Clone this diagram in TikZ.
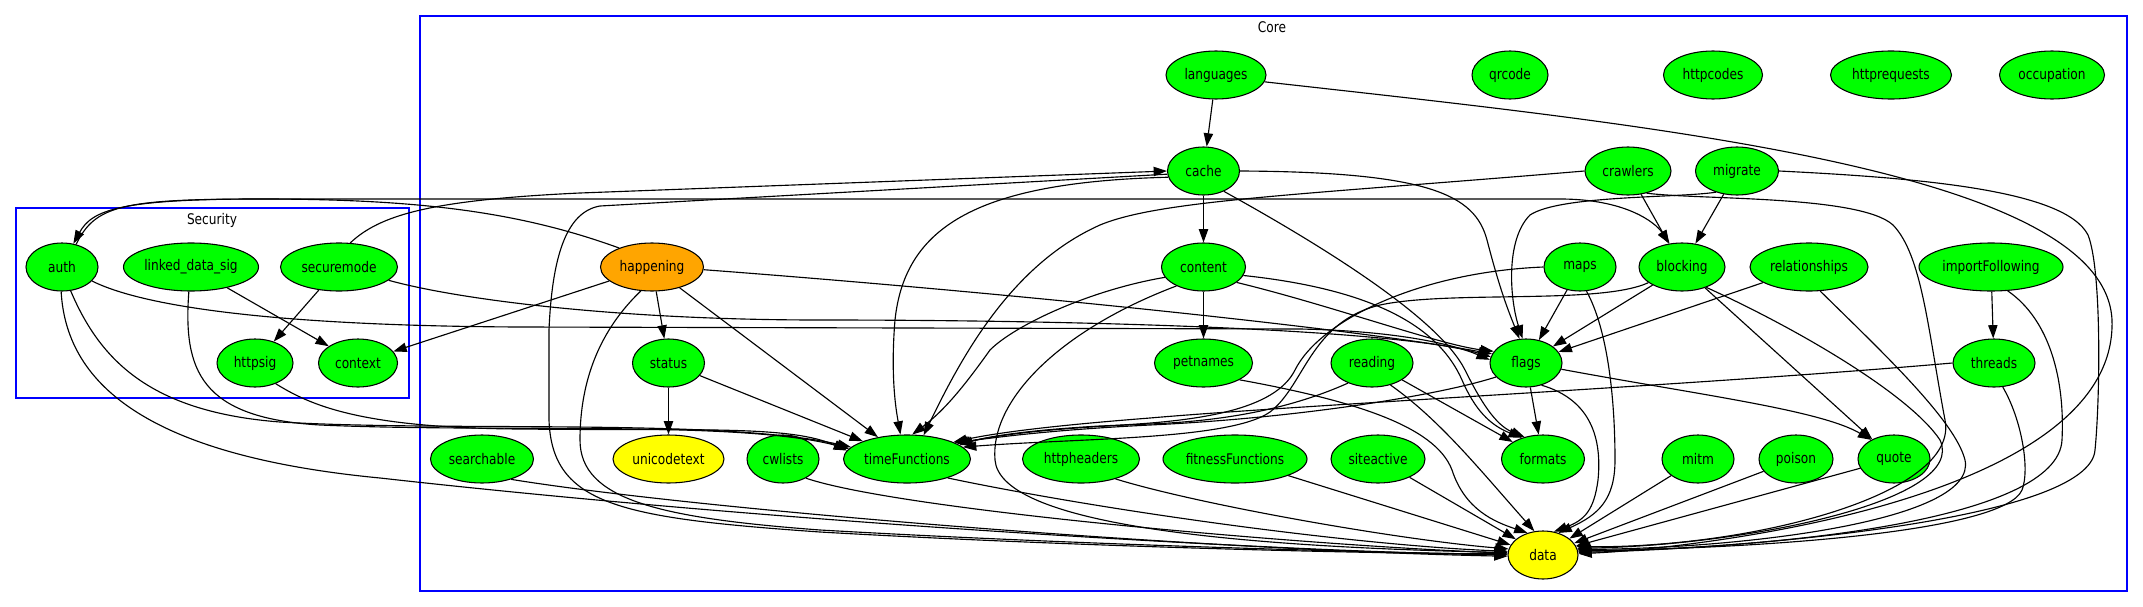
\documentclass[tikz,border=0pt]{standalone}
\usepackage{fontspec}
\setmainfont{DejaVu Sans}[FakeStretch=0.83]
\usetikzlibrary{shapes.geometric,arrows.meta}
\definecolor{gvgreen}{RGB}{0,255,0}
\definecolor{gvyellow}{RGB}{255,255,0}
\definecolor{gvorange}{RGB}{255,165,0}
\definecolor{gvblue}{RGB}{0,0,255}
\begin{document}
\begin{tikzpicture}[x=0.75pt,y=-0.75pt,
  nd/.style={ellipse,draw,line width=0.8pt,fill=gvgreen,minimum height=36pt,inner sep=0pt,font=\fontsize{11}{13}\selectfont},
  wd/.style={minimum width=#1*0.75pt},
  yel/.style={fill=gvyellow},
  org/.style={fill=gvorange},
  ed/.style={line width=0.85pt,-{Triangle[length=10pt,width=7pt]}},
  cl/.style={draw=gvblue,line width=0.8pt},
  lbl/.style={font=\fontsize{11}{13}\selectfont,inner sep=0pt}]
\useasboundingbox (0,0) rectangle (2143,607);
% clusters
\draw[cl] (16,208) rectangle (409,398);
\node[lbl] (seclbl) at (212,220) {Security};
\draw[cl] (420,16) rectangle (2127,591);
\node[lbl] (corelbl) at (1272,27) {Core};
% nodes
\node[nd,wd=72] (auth) at (62,267) {auth};
\node[nd,wd=135] (lds) at (191,267) {linked\_data\_sig};
\node[nd,wd=117] (securemode) at (339,267) {securemode};
\node[nd,wd=76] (httpsig) at (255,363) {httpsig};
\node[nd,wd=79] (context) at (358,363) {context};
\node[nd,wd=100] (languages) at (1216,75) {languages};
\node[nd,wd=76] (qrcode) at (1510,75) {qrcode};
\node[nd,wd=99] (httpcodes) at (1713,75) {httpcodes};
\node[nd,wd=121] (httprequests) at (1891,75) {httprequests};
\node[nd,wd=105] (occupation) at (2052,75) {occupation};
\node[nd,wd=72] (cache) at (1203.5,171) {cache};
\node[nd,wd=86] (crawlers) at (1628,171) {crawlers};
\node[nd,wd=83] (migrate) at (1737,171) {migrate};
\node[nd,org,wd=103] (happening) at (652,267) {happening};
\node[nd,wd=84] (content) at (1203.5,267) {content};
\node[nd,wd=72] (maps) at (1580,267) {maps};
\node[nd,wd=86] (blocking) at (1682,267) {blocking};
\node[nd,wd=118] (relationships) at (1809,267) {relationships};
\node[nd,wd=144] (importFollowing) at (1991,267) {importFollowing};
\node[nd,wd=72] (status) at (668.5,363) {status};
\node[nd,wd=98] (petnames) at (1203.5,363) {petnames};
\node[nd,wd=82] (reading) at (1372,363) {reading};
\node[nd,wd=72] (flags) at (1526,363) {flags};
\node[nd,wd=82] (threads) at (1994,363) {threads};
\node[nd,wd=103] (searchable) at (482,459) {searchable};
\node[nd,yel,wd=111] (unicodetext) at (668.5,459) {unicodetext};
\node[nd,wd=72] (cwlists) at (783,459) {cwlists};
\node[nd,wd=127] (timeFunctions) at (907,459) {timeFunctions};
\node[nd,wd=117] (httpheaders) at (1081,459) {httpheaders};
\node[nd,wd=144] (fitnessFunctions) at (1235,459) {fitnessFunctions};
\node[nd,wd=94] (siteactive) at (1378,459) {siteactive};
\node[nd,wd=83] (formats) at (1543,459) {formats};
\node[nd,wd=72] (mitm) at (1698,459) {mitm};
\node[nd,wd=74] (poison) at (1796,459) {poison};
\node[nd,wd=72] (quote) at (1894,459) {quote};
\node[nd,yel,wd=70] (data) at (1543,555) {data};
% Security edges
\draw[ed] (securemode) -- (httpsig);
\draw[ed] (lds) -- (context);
\draw[ed] (happening) -- (context);
\draw[ed] (happening.150) .. controls (520,212) and (420,199) .. (260,199) .. controls (120,199) and (92,210) .. (auth.64);
\draw[ed] (auth.58) .. controls (95,206) and (120,199) .. (260,199) -- (1560,199) .. controls (1625,199) and (1655,222) .. (blocking.118);
\draw[ed] (auth.-25) .. controls (150,310) and (300,326) .. (520,327) -- (1300,329) .. controls (1400,331) and (1455,345) .. (flags.175);
\draw[ed] (securemode.-15) .. controls (460,300) and (620,320) .. (820,320) .. controls (1100,320) and (1400,330) .. (flags.170);
\draw[ed] (happening.-3) .. controls (1000,292) and (1350,328) .. (flags.165);
\draw[ed] (auth.-70) .. controls (100,360) and (150,412) .. (280,422) .. controls (450,432) and (720,418) .. (timeFunctions.168);
\draw[ed] (lds.-95) .. controls (183,370) and (200,418) .. (320,425) .. controls (500,433) and (740,420) .. (timeFunctions.170);
\draw[ed] (httpsig.-45) .. controls (310,405) and (360,428) .. (520,429) .. controls (700,431) and (790,425) .. (timeFunctions.172);
\draw[ed] (auth.-92) .. controls (66,380) and (140,455) .. (380,478) .. controls (800,525) and (1300,552) .. (data.180);
\draw[ed] (securemode.65) .. controls (380,215) and (430,200) .. (580,193) -- (cache.180);
% cache
\draw[ed] (languages) -- (cache);
\draw[ed] (languages.-8) .. controls (1650,125) and (2105,170) .. (2112,320) .. controls (2118,500) and (1700,548) .. (data.2);
\draw[ed] (cache.185) -- (600,206) .. controls (565,212) and (552,260) .. (549,330) -- (549,420) .. controls (552,505) and (620,518) .. (820,532) .. controls (1100,548) and (1400,554) .. (data.178);
\draw[ed] (cache.190) .. controls (980,182) and (905,225) .. (895,320) .. controls (890,380) and (897,415) .. (timeFunctions.105);
\draw[ed] (cache) -- (content);
\draw[ed] (cache.east) .. controls (1430,172) and (1475,195) .. (1487,240) .. controls (1500,290) and (1508,310) .. (flags.105);
\draw[ed] (cache.-45) .. controls (1330,250) and (1440,320) .. (1465,370) .. controls (1480,400) and (1495,425) .. (formats.130);
% content
\draw[ed] (content) -- (petnames);
\draw[ed] (content.-25) .. controls (1330,305) and (1440,345) .. (flags.160);
\draw[ed] (content.-12) .. controls (1380,290) and (1440,330) .. (1462,380) .. controls (1475,410) and (1490,425) .. (formats.135);
\draw[ed] (content.195) .. controls (1090,290) and (1015,325) .. (990,350) .. controls (965,385) and (945,410) .. (timeFunctions.78);
\draw[ed] (content.215) .. controls (1060,330) and (990,400) .. (995,460) .. controls (1000,520) and (1200,546) .. (data.176);
% happening
\draw[ed] (happening) -- (status);
\draw[ed] (happening) -- (timeFunctions);
\draw[ed] (happening.-115) .. controls (600,330) and (580,380) .. (580,440) .. controls (580,500) and (660,518) .. (820,530) .. controls (1100,546) and (1400,553) .. (data.179);
\draw[ed] (status) -- (unicodetext);
\draw[ed] (status) -- (timeFunctions);
% crawlers, migrate
\draw[ed] (crawlers) -- (blocking);
\draw[ed] (migrate) -- (blocking);
\draw[ed] (crawlers.west) .. controls (1300,195) and (1160,200) .. (1100,225) .. controls (1010,265) and (960,360) .. (timeFunctions.55);
\draw[ed] (crawlers.-50) .. controls (1700,200) and (1860,195) .. (1893,225) .. controls (1922,255) and (1928,330) .. (1945,420) .. controls (1960,495) and (1750,548) .. (data.14);
\draw[ed] (migrate.225) .. controls (1680,198) and (1560,195) .. (1530,215) .. controls (1505,240) and (1510,300) .. (flags.98);
\draw[ed] (migrate.east) .. controls (1920,178) and (2065,190) .. (2088,235) .. controls (2102,270) and (2100,400) .. (2095,450) .. controls (2090,520) and (1750,548) .. (data.4);
% maps, blocking, relationships
\draw[ed] (maps) -- (flags);
\draw[ed] (maps.-75) .. controls (1608,330) and (1615,400) .. (1615,460) .. controls (1615,500) and (1598,515) .. (data.55);
\draw[ed] (maps.west) .. controls (1420,272) and (1320,320) .. (1295,370) .. controls (1275,410) and (1200,422) .. (1100,426) .. controls (1030,430) and (990,436) .. (timeFunctions.15);
\draw[ed] (blocking) -- (flags);
\draw[ed] (blocking.205) .. controls (1600,305) and (1450,290) .. (1380,305) .. controls (1310,322) and (1305,385) .. (1270,412) .. controls (1230,440) and (1080,438) .. (timeFunctions.12);
\draw[ed] (blocking) -- (quote);
\draw[ed] (blocking.-40) .. controls (1800,330) and (1910,395) .. (1940,440) .. controls (1968,500) and (1750,545) .. (data.11);
\draw[ed] (relationships) -- (flags);
\draw[ed] (relationships.-65) .. controls (1880,350) and (1955,420) .. (1965,460) .. controls (1978,520) and (1750,548) .. (data.9);
\draw[ed] (importFollowing) -- (threads);
\draw[ed] (importFollowing.-55) .. controls (2050,320) and (2065,380) .. (2062,440) .. controls (2058,520) and (1780,548) .. (data.6);
\draw[ed] (threads.west) .. controls (1700,385) and (1300,405) .. (1150,418) .. controls (1060,425) and (1000,432) .. (timeFunctions.20);
\draw[ed] (threads.-70) .. controls (2022,420) and (2030,470) .. (2022,490) .. controls (2005,530) and (1780,548) .. (data.7);
% row 4
\draw[ed] (petnames.-25) .. controls (1350,400) and (1435,425) .. (1452,470) .. controls (1465,510) and (1495,522) .. (data.125);
\draw[ed] (reading) -- (formats);
\draw[ed] (reading.-50) .. controls (1440,420) and (1480,470) .. (data.110);
\draw[ed] (reading.220) .. controls (1310,400) and (1250,420) .. (1150,424) .. controls (1050,428) and (1000,435) .. (timeFunctions.17);
\draw[ed] (flags) -- (formats);
\draw[ed] (flags.-10) .. controls (1700,395) and (1820,410) .. (quote.140);
\draw[ed] (flags.-55) .. controls (1592,400) and (1602,440) .. (1598,480) .. controls (1594,510) and (1585,520) .. (data.65);
\draw[ed] (flags.205) .. controls (1440,395) and (1300,418) .. (1150,425) .. controls (1050,430) and (1000,437) .. (timeFunctions.19);
% row 5
\draw[ed] (searchable.-35) .. controls (700,510) and (1200,550) .. (data.182);
\draw[ed] (cwlists.-40) .. controls (900,510) and (1300,545) .. (data.177);
\draw[ed] (timeFunctions.-25) .. controls (1100,510) and (1350,545) .. (data.174);
\draw[ed] (httpheaders.-30) .. controls (1200,505) and (1400,540) .. (data.170);
\draw[ed] (fitnessFunctions) -- (data);
\draw[ed] (siteactive) -- (data);
\draw[ed] (mitm) -- (data);
\draw[ed] (poison) -- (data);
\draw[ed] (quote) -- (data);
\end{tikzpicture}
\end{document}
